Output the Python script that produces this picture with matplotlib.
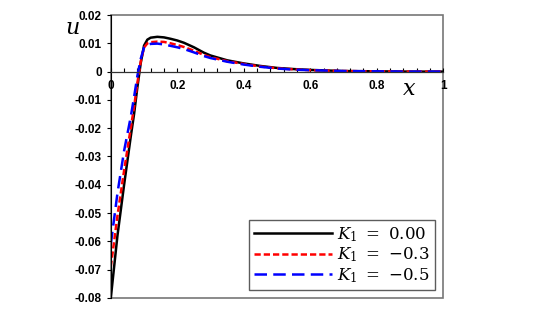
import matplotlib
matplotlib.use('Agg')
import matplotlib.pyplot as plt
from matplotlib.patches import Rectangle
from matplotlib.ticker import MultipleLocator, FuncFormatter

plt.rcParams['mathtext.fontset'] = 'dejavuserif'
plt.rcParams['font.family'] = ['Liberation Sans', 'DejaVu Sans']

# data
x = [0, 0.02, 0.04, 0.06, 0.07, 0.08, 0.09, 0.10, 0.11, 0.12, 0.14, 0.16, 0.18,
     0.20, 0.22, 0.25, 0.28, 0.30, 0.35, 0.40, 0.45, 0.50, 0.55, 0.60, 0.70,
     0.80, 0.90, 1.0]
u_k0 = [-0.080, -0.058, -0.040, -0.023, -0.015, -0.0055, 0.0030, 0.0092, 0.0113,
        0.0120, 0.0123, 0.0121, 0.0116, 0.0110, 0.0102, 0.0086, 0.0067, 0.0057,
        0.0040, 0.0029, 0.0020, 0.0013, 0.0009, 0.0006, 0.0002, 0.0001, 0.0, 0.0]
u_k03 = [-0.069, -0.051, -0.035, -0.020, -0.0125, -0.004, 0.0035, 0.0085, 0.0100,
         0.0104, 0.0106, 0.0105, 0.0100, 0.0094, 0.0087, 0.0074, 0.0059, 0.0051,
         0.0037, 0.0027, 0.0018, 0.0012, 0.0008, 0.0005, 0.0002, 0.0001, 0.0, 0.0]
u_k05 = [-0.061, -0.043, -0.028, -0.016, -0.009, -0.0015, 0.0045, 0.0085, 0.0095,
         0.0098, 0.0099, 0.0096, 0.0091, 0.0086, 0.0080, 0.0068, 0.0055, 0.0048,
         0.0035, 0.0025, 0.0017, 0.0011, 0.0007, 0.0005, 0.0002, 0.0001, 0.0, 0.0]
labels = [r'$K_1\ =\ 0.00$', r'$K_1\ =\ {-}0.3$', r'$K_1\ =\ {-}0.5$']


def xfmt(v, pos):
    if abs(v) < 1e-9:
        return '0'
    if abs(v - 1) < 1e-9:
        return '1'
    return f'{v:.1f}'


def yfmt(v, pos):
    if abs(v) < 1e-9:
        return '0'
    return f'{v:.2f}'


fig = plt.figure(figsize=(5.54, 3.2), dpi=100)
ax = fig.add_axes([0.2, 0.069, 0.6, 0.884])

ax.plot(x, u_k0, color='black', lw=1.8, label=labels[0])
ax.plot(x, u_k03, color='red', lw=1.8, ls=(0, (2.5, 1.2)), label=labels[1])
ax.plot(x, u_k05, color='blue', lw=1.8, ls=(0, (5, 2.5)), label=labels[2])

ax.set_xlim(0, 1)
ax.set_ylim(-0.08, 0.02)

ax.spines['bottom'].set_position(('data', 0))
ax.spines['bottom'].set_color('#333333')
ax.spines['bottom'].set_linewidth(0.9)
ax.spines['left'].set_color('black')
ax.spines['top'].set_visible(False)
ax.spines['right'].set_visible(False)
ax.add_patch(Rectangle((0, 0), 1, 1, transform=ax.transAxes, fill=False,
                       edgecolor='#777777', lw=1.2, clip_on=False, zorder=0))

ax.xaxis.set_major_locator(MultipleLocator(0.2))
ax.xaxis.set_minor_locator(MultipleLocator(0.04))
ax.yaxis.set_major_locator(MultipleLocator(0.01))
ax.xaxis.set_major_formatter(FuncFormatter(xfmt))
ax.yaxis.set_major_formatter(FuncFormatter(yfmt))
ax.tick_params(axis='x', which='both', direction='in', length=3, width=0.8, pad=6,
               labelsize=8.5)
ax.tick_params(axis='y', direction='out', length=3, width=0.8, labelsize=8.5)
for t in ax.get_xticklabels() + ax.get_yticklabels():
    t.set_fontweight('bold')

fig.text(0.13, 0.912, r'$u$', fontsize=16, ha='center', va='center')
fig.text(0.738, 0.72, r'$x$', fontsize=16, ha='center', va='center')

leg = ax.legend(loc='lower right', fontsize=12, frameon=True, fancybox=False,
                handlelength=4.7, handletextpad=0.3, borderpad=0.3,
                labelspacing=0.1, borderaxespad=0.5)
leg.get_frame().set_edgecolor('#333333')
leg.get_frame().set_linewidth(1.0)

fig.savefig('out.png', dpi=100)
